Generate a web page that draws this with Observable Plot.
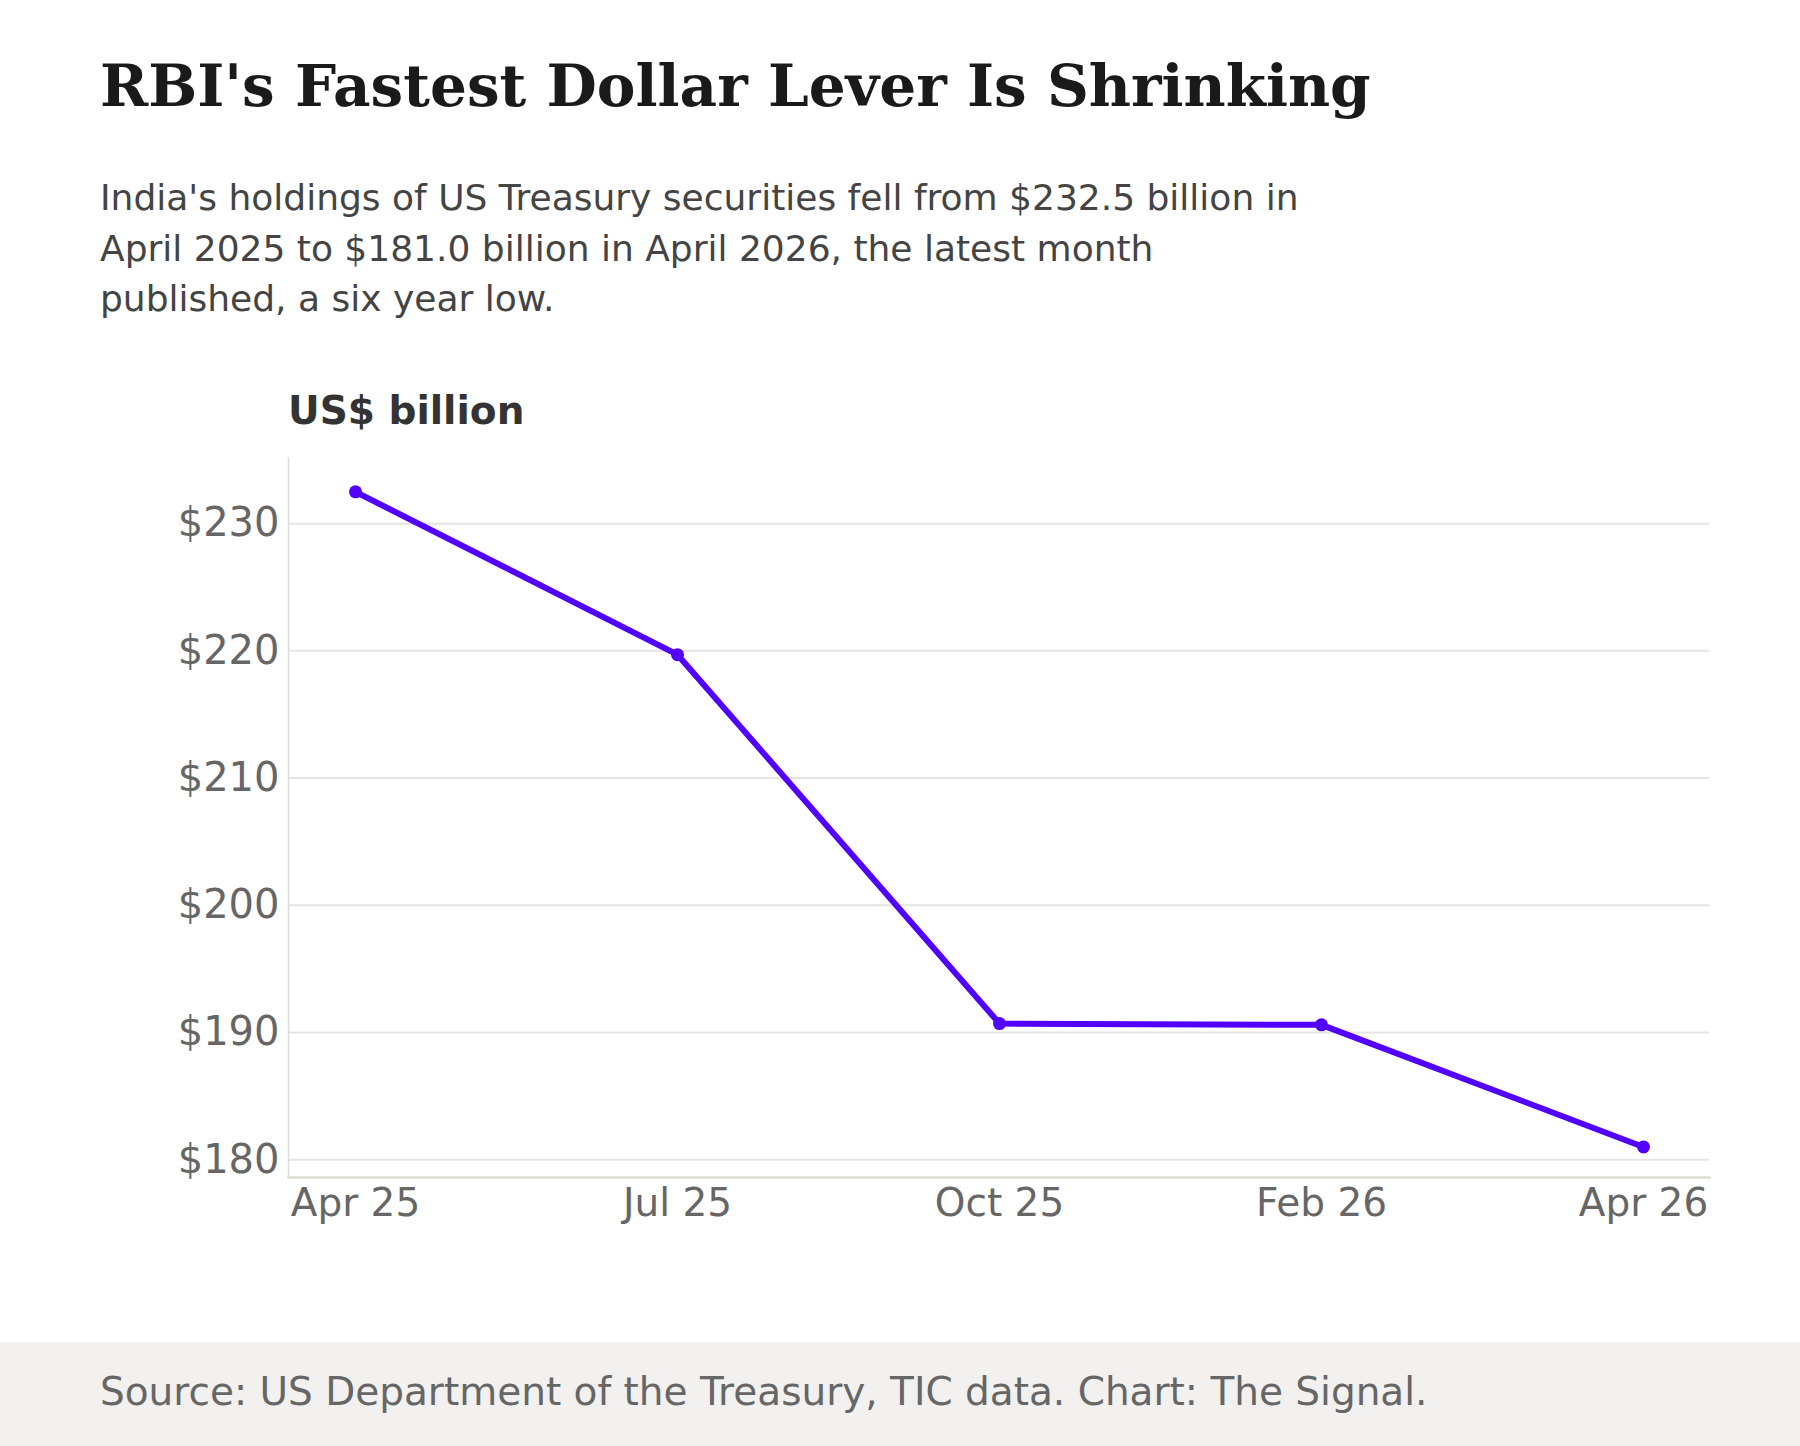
<!DOCTYPE html>
<html>
<head>
<meta charset="utf-8">
<script src="https://cdn.jsdelivr.net/npm/d3@7"></script>
<script src="https://cdn.jsdelivr.net/npm/@observablehq/plot@0.6"></script>
<style>
  html, body { margin: 0; padding: 0; background: #fff; }
  #page { position: relative; width: 1800px; height: 1446px; overflow: hidden; font-family: "DejaVu Sans", sans-serif; }
  .abs { position: absolute; white-space: nowrap; }
  #title { left: 100px; top: 57px; font-family: "DejaVu Serif", serif; font-weight: bold; font-size: 58px; line-height: 1; color: #1a1a1a; }
  #subtitle { left: 100px; top: 173px; font-size: 36px; line-height: 50.5px; color: #444; }
  #ylabel { left: 288px; top: 391px; font-size: 39px; line-height: 1; font-weight: bold; color: #333; }
  #chart { left: 0; top: 440px; }
  #footer { left: 0; top: 1342px; width: 1800px; height: 104px; background: #f2f1ef; }
  #source { left: 100px; top: 1372px; font-size: 39px; line-height: 1; color: #666; }
</style>
</head>
<body>
<div id="page">
  <div id="title" class="abs">RBI's Fastest Dollar Lever Is Shrinking</div>
  <div id="subtitle" class="abs">India's holdings of US Treasury securities fell from $232.5 billion in<br>April 2025 to $181.0 billion in April 2026, the latest month<br>published, a six year low.</div>
  <div id="ylabel" class="abs">US$ billion</div>
  <div id="chart" class="abs"></div>
  <div id="footer" class="abs"></div>
  <div id="source" class="abs">Source: US Department of the Treasury, TIC data. Chart: The Signal.</div>
</div>
<script>
const months = ["Apr 25", "Jul 25", "Oct 25", "Feb 26", "Apr 26"];
const holdings = [232.5, 219.7, 190.7, 190.6, 181.0];
const yTicks = [180, 190, 200, 210, 220, 230];
const yDomain = [178.6, 235.2];

const data = months.map((m, i) => ({month: m, value: holdings[i]}));

const chart = Plot.plot({
  width: 1800,
  height: 800,
  marginLeft: 288,
  marginRight: 91,
  marginTop: 17,
  marginBottom: 63,
  style: {fontFamily: "DejaVu Sans, sans-serif", fontSize: "40px", color: "#666", background: "transparent", overflow: "visible"},
  x: {type: "point", domain: months, padding: 0.2, label: null},
  y: {domain: yDomain, ticks: yTicks, label: null},
  marks: [
    Plot.gridY(yTicks, {stroke: "#e5e5e2", strokeOpacity: 1, strokeWidth: 2}),
    Plot.frame({anchor: "left", stroke: "#dcdcd8", strokeWidth: 1.5}),
    Plot.frame({anchor: "bottom", stroke: "#dcdcd6", strokeWidth: 2.5}),
    Plot.axisY(yTicks, {tickSize: 0, tickPadding: 9, tickFormat: d => "$" + d, fill: "#666", fontSize: 40}),
    Plot.axisX(months, {tickSize: 0, tickPadding: 11, fill: "#666", fontSize: 39}),
    Plot.line(data, {x: "month", y: "value", stroke: "#5200ff", strokeWidth: 6, strokeLinejoin: "round"}),
    Plot.dot(data, {x: "month", y: "value", fill: "#5200ff", r: 6.5})
  ]
});
document.getElementById("chart").appendChild(chart);
</script>
</body>
</html>
